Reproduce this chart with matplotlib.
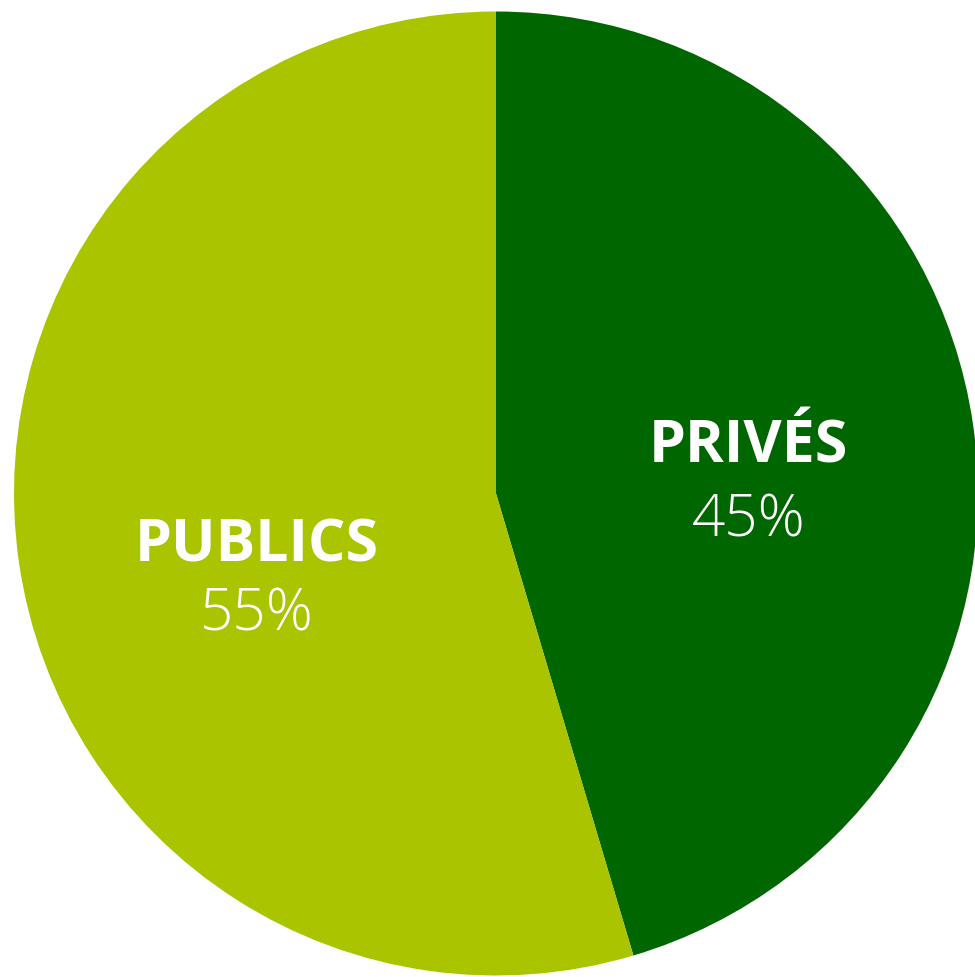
import matplotlib
matplotlib.use("Agg")
import matplotlib.pyplot as plt

categories = ["PRIVÉS", "PUBLICS"]
values = [45.4, 54.6]
colors = ["#006600", "#AAC400"]
# label anchor positions (pie radius = 1), baseline of name / percent
label_x = [0.524, -0.496]
name_y = [0.0654, -0.138]
pct_y = [-0.0861, -0.2826]

W, H = 975, 978
fig = plt.figure(figsize=(W / 100, H / 100), dpi=100)
cx, cy, r = 496, 494.5, 482
ax = fig.add_axes([(cx - r) / W, (H - cy - r) / H, 2 * r / W, 2 * r / H])
ax.pie(values, colors=colors, startangle=90, counterclock=False, radius=1,
       wedgeprops=dict(linewidth=0), frame=False)
ax.set_xlim(-1, 1)
ax.set_ylim(-1, 1)
ax.set_aspect("auto")
ax.axis("off")

for cat, v, x, ny, py in zip(categories, values, label_x, name_y, pct_y):
    ax.text(x, ny, cat, ha="center", va="baseline", color="white",
            fontsize=42.5, fontweight="bold", family=["Open Sans", "DejaVu Sans"])
    ax.text(x, py, f"{round(v):d}%", ha="center", va="baseline", color="white",
            fontsize=42, fontweight="light", family=["Open Sans", "DejaVu Sans"])

fig.savefig("out.png", dpi=100)
